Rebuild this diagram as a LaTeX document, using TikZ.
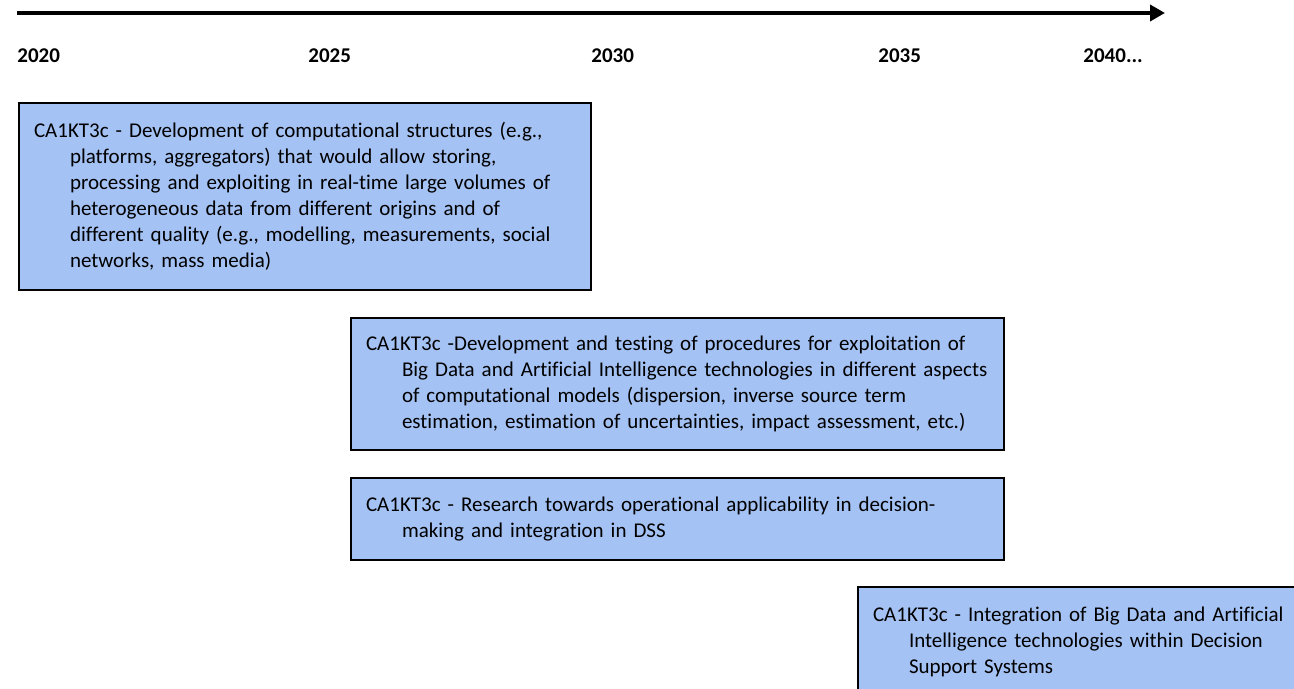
\documentclass[tikz,border=0pt]{standalone}
\usepackage{fontspec}
\setmainfont{Carlito}[Ligatures=NoCommon]
\usetikzlibrary{arrows.meta}
\definecolor{bar}{HTML}{A4C2F4}

\begin{document}
\begin{tikzpicture}[x=0.5pt, y=-0.5pt,
  font=\fontsize{10.5}{13}\selectfont,
  yr/.style={anchor=base west, inner sep=0pt,
             font=\fontsize{10.5}{12}\selectfont\bfseries},
  bx/.style={draw=black, line width=1pt, fill=bar, anchor=north west,
             align=left, inner xsep=7.5pt, inner ysep=0pt,
             execute at begin node={\hangindent=18pt\hangafter=1}},
  ar/.style={line width=2pt, -{Triangle[length=7.5pt, width=8pt]}}]
\clip (0,0) rectangle (1294,689);

% time axis
\coordinate (t0) at (17,13);
\coordinate (t1) at (1165,13);
\draw[ar] (t0) -- (t1);

\node[yr] (y20) at (17,63) {2020};
\node[yr] (y25) at (308,63) {2025};
\node[yr] (y30) at (591,63) {2030};
\node[yr] (y35) at (878,63) {2035};
\node[yr] (y40) at (1083,63) {2040...};

% tasks
\node[bx, minimum width=286pt, minimum height=93.5pt, text width=271pt] (k1) at (18,102)
  {CA1KT3c - Development of computational structures (e.g.,\newline
   platforms, aggregators) that would allow storing,\newline
   processing and exploiting in real-time large volumes of\newline
   heterogeneous data from different origins and of\newline
   different quality (e.g., modelling, measurements, social\newline
   networks, mass media)};
\node[bx, minimum width=326.5pt, minimum height=66pt, text width=311.5pt] (k2) at (350,317)
  {CA1KT3c -Development and testing of procedures for exploitation of\newline
   Big Data and Artificial Intelligence technologies in different aspects\newline
   of computational models (dispersion, inverse source term\newline
   estimation, estimation of uncertainties, impact assessment, etc.)};
\node[bx, minimum width=326.5pt, minimum height=41pt, text width=311.5pt] (k3) at (350,477)
  {CA1KT3c - Research towards operational applicability in decision-\newline
   making and integration in DSS};
\node[bx, minimum width=230pt, minimum height=55pt, text width=215pt] (k4) at (857,586)
  {CA1KT3c - Integration of Big Data and Artificial\newline
   Intelligence technologies within Decision\newline
   Support Systems};
\end{tikzpicture}
\end{document}
